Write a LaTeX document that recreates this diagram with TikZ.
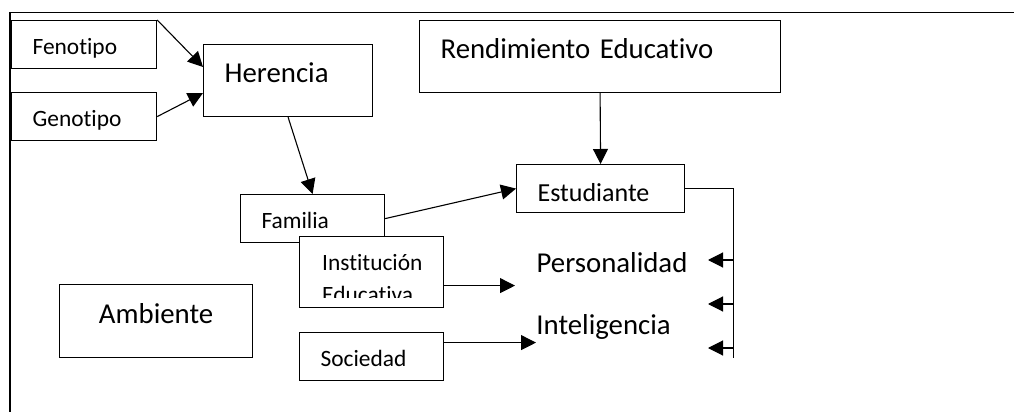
\documentclass[tikz,border=0pt]{standalone}
\usepackage{fontspec}
\setmainfont[Ligatures=NoCommon]{Carlito}
\usetikzlibrary{arrows.meta}

\newcommand{\fuenteGrande}{\fontsize{14.4}{17}\selectfont}
\newcommand{\fuenteMedia}{\fontsize{13}{15.5}\selectfont}
\newcommand{\fuenteChica}{\fontsize{11.7}{16}\selectfont}

\begin{document}
\begin{tikzpicture}[
    x=0.5pt, y=-0.5pt,
    caja/.style={rectangle, draw, fill=white, line width=0.6pt, anchor=north west, inner ysep=0pt, inner xsep=10.5pt, align=left},
    grande/.style={caja, font=\fuenteGrande, text height=9pt, text depth=6.75pt, minimum height=36pt},
    media/.style={caja, font=\fuenteMedia, text height=13pt, text depth=0pt, minimum height=24pt},
    chica/.style={caja, font=\fuenteChica, text height=10pt, text depth=0pt, minimum height=24pt},
    flecha/.style={-{Triangle[length=7.5pt, width=7.5pt]}, line width=0.55pt}
]
\useasboundingbox (0,0) rectangle (1014,412);

% marco
\draw[line width=0.7pt] (10,412) -- (10,12.7) -- (1014,12.7);

% herencia
\node[chica, text width=51.5pt] (fen) at (11,20) {Fenotipo};
\node[chica, text width=51.5pt] (gen) at (11,92) {Genotipo};
\node[grande, text width=63.5pt] (her) at (203,44) {Herencia};

% rendimiento y estudiante
\node[grande, text width=159.5pt] (ren) at (419,20) {Rendimiento Educativo};
\node[media, text width=63pt] (est) at (516,164) {Estudiante};

% ambiente
\node[grande, align=center, text width=75.5pt, minimum height=36.5pt] (amb) at (59,284) {Ambiente};
\node[chica, text width=51pt] (fam) at (240,194) {Familia};
\node[chica, text width=51pt, minimum height=35.5pt,
    path picture={
        \clip ([yshift=5pt]path picture bounding box.south west) rectangle (path picture bounding box.north east);
        \node[anchor=base west, inner sep=0pt, align=left, text height={}, text depth={}, text width={}, font=\fuenteChica] (instTexto)
            at ([xshift=11pt, yshift=-33pt]path picture bounding box.north west) {Institución\\Educativa};
    }] (inst) at (299,236) {};
\node[chica, text width=51pt] (soc) at (299,332) {Sociedad};

% factores
\node[grande, draw=none, fill=none, text width=80pt] (pers) at (515,234) {Personalidad};
\node[font=\fuenteGrande, anchor=base west, inner sep=0pt] (inte) at (536,334) {Inteligencia};

% flechas
\draw[flecha] (fen.north east) -- ([yshift=-11.5pt]her.north west);
\draw[flecha] (gen.east) -- ([yshift=-24.5pt]her.north west);
\draw[flecha] (her.south) -- (fam.north);
\draw[flecha] (fam.east) -- (est.west);
\draw[flecha] (ren.south) -- (est.north);
\draw[flecha] ([yshift=-6.75pt]inst.east) -- ([yshift=-6.75pt]inst.east -| pers.west);
\draw[flecha] ([yshift=7pt]soc.east) -- ([yshift=7pt]soc.east -| inte.west);

% llave de la derecha
\draw[line width=0.55pt] (est.east) -- ++(48,0) coordinate (llave) -- ++(0,169);
\foreach \yy [count=\i] in {260,304,348} {
    \coordinate (punta\i) at (708,\yy);
    \draw[flecha] (punta\i -| llave) -- (punta\i);
}

\end{tikzpicture}
\end{document}
